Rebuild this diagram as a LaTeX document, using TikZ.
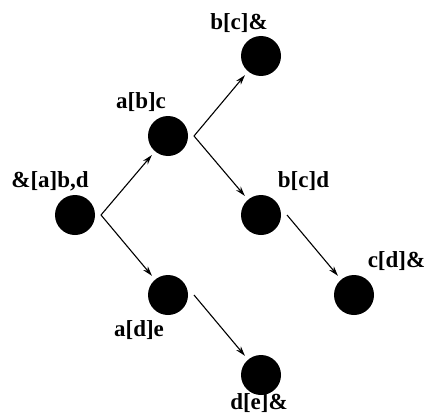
\documentclass[tikz,border=0pt]{standalone}
\usepackage{fontspec}
\setmainfont{Liberation Serif}
\usetikzlibrary{arrows.meta}
\begin{document}
\begin{tikzpicture}[x=1pt,y=-1pt,
  dot/.style={circle,fill=black,draw=none,minimum size=40pt,inner sep=0pt,outer sep=5pt},
  lbl/.style={inner sep=0pt,font=\fontsize{23}{27}\selectfont\bfseries},
  arr/.style={line width=1.1pt,-{Stealth[length=10pt,width=6pt]}}]
\useasboundingbox (0,0) rectangle (427,417);
\node[dot] (n1) at (75,215) {};
\node[dot] (n2) at (168,136) {};
\node[dot] (n3) at (168,295) {};
\node[dot] (n4) at (261,56) {};
\node[dot] (n5) at (261,215) {};
\node[dot] (n6) at (354,295) {};
\node[dot] (n7) at (261,375) {};
\node[lbl] (l1) at (50,181.5) {\&[a]b,d};
\node[lbl] (l2) at (141,102.5) {a[b]c};
\node[lbl] (l3) at (139,330) {a[d]e};
\node[lbl] (l4) at (239,23.5) {b[c]\&};
\node[lbl] (l5) at (303.5,181.5) {b[c]d};
\node[lbl] (l6) at (396.5,261.5) {c[d]\&};
\node[lbl] (l7) at (259,403) {d[e]\&};
\draw[arr] ([xshift=1pt]n1.east) -- (n2);
\draw[arr] ([xshift=1pt]n1.east) -- (n3);
\draw[arr] ([xshift=1pt]n2.east) -- (n4);
\draw[arr] ([xshift=1pt]n2.east) -- (n5);
\draw[arr] ([xshift=1pt]n5.east) -- (n6);
\draw[arr] ([xshift=1pt]n3.east) -- (n7);
\end{tikzpicture}
\end{document}
